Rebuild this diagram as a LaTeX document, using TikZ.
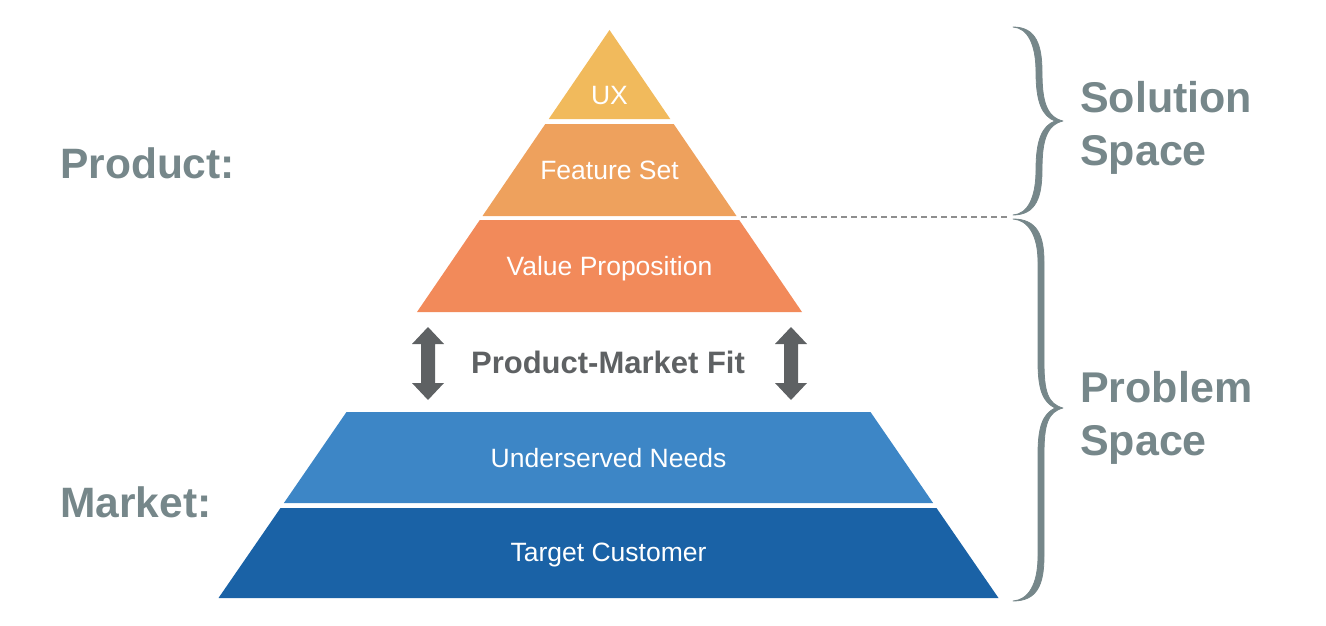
\documentclass[tikz,border=0pt]{standalone}
\usepackage{fontspec}
\setmainfont{Liberation Sans}
\definecolor{uxcol}{HTML}{F1BA5C}
\definecolor{featcol}{HTML}{EEA15D}
\definecolor{vpcol}{HTML}{F28A5A}
\definecolor{needcol}{HTML}{3D86C6}
\definecolor{custcol}{HTML}{1A62A6}
\definecolor{txtgray}{HTML}{76878A}
\definecolor{arrgray}{HTML}{5E6163}
\definecolor{dashgray}{HTML}{8E8E8E}
\tikzset{
  layerlabel/.style={text=white, inner sep=0, anchor=base, font=\fontsize{26.5}{30}\selectfont},
  sidelabel/.style={text=txtgray, inner sep=0, anchor=base west, font=\fontsize{42.5}{50}\selectfont\bfseries},
  spacelabel/.style={text=txtgray, inner sep=0, anchor=base west, font=\fontsize{43}{50}\selectfont\bfseries},
  bracestyle/.style={fill=txtgray, draw=txtgray, line width=0.8pt, line join=round},
  blockarrow/.style={fill=arrgray, draw=none},
}
\begin{document}
\begin{tikzpicture}[x=1pt,y=-1pt]
\useasboundingbox (0,0) rectangle (1326,626);

% product pyramid top
\fill[uxcol] (609.5,30) -- (670.25,119) -- (548.75,119) -- cycle;
\fill[featcol] (545.3,124) -- (673.7,124) -- (736.5,216) -- (482.5,216) -- cycle;
\fill[vpcol] (479.8,220) -- (739.2,220) -- (802,312) -- (417,312) -- cycle;

% market trapezoids
\fill[needcol] (346.5,412) -- (870.5,412) -- (933.1,503) -- (283.9,503) -- cycle;
\fill[custcol] (280.5,508) -- (936.5,508) -- (998.5,598) -- (218.5,598) -- cycle;

% layer labels
\node[layerlabel] (ux) at (609.5,105) {UX};
\node[layerlabel] (feat) at (609.5,179) {Feature Set};
\node[layerlabel] (vp) at (609.5,275) {Value Proposition};
\node[layerlabel] (needs) at (608.5,467) {Underserved Needs};
\node[layerlabel] (cust) at (608.5,561) {Target Customer};

% product-market fit
\node[inner sep=0, anchor=base, text=arrgray, font=\fontsize{31}{36}\selectfont\bfseries] (pmf) at (608,373) {Product-Market Fit};

% double block arrows
\fill[blockarrow] (428,327) -- (444,344) -- (435,344) -- (435,383) -- (444,383) -- (428,400) -- (412,383) -- (421,383) -- (421,344) -- (412,344) -- cycle;
\fill[blockarrow] (791,327) -- (807,344) -- (798,344) -- (798,383) -- (807,383) -- (791,400) -- (775,383) -- (784,383) -- (784,344) -- (775,344) -- cycle;

% side labels
\node[sidelabel] (product) at (60,178) {Product:};
\node[sidelabel] (market) at (60,517) {Market:};

% dashed divider
\coordinate (dashA) at (741,217);
\coordinate (dashB) at (1010,217);
\draw[dashgray, line width=1.5pt, dash pattern=on 6pt off 4pt] (dashA) -- (dashB);

% braces (calligraphic, filled)
\filldraw[bracestyle] (1013,27) .. controls (1036,27) and (1042,45) .. (1042,72)
  .. controls (1042,100) and (1046,117) .. (1063,121)
  .. controls (1046,125) and (1042,142) .. (1042,170)
  .. controls (1042,197) and (1036,215) .. (1013,215)
  .. controls (1028,214) and (1036,197) .. (1036,170)
  .. controls (1036,140) and (1042,126) .. (1055,121)
  .. controls (1042,116) and (1036,102) .. (1036,72)
  .. controls (1036,45) and (1028,28) .. (1013,27) -- cycle;
\filldraw[bracestyle] (1013,219) .. controls (1037,219) and (1044,235) .. (1044,262)
  -- (1044,362) .. controls (1044,392) and (1048,404) .. (1063,408)
  .. controls (1048,412) and (1044,424) .. (1044,454)
  -- (1044,556) .. controls (1044,585) and (1037,601) .. (1013,601)
  .. controls (1028,600) and (1038,585) .. (1038,556)
  -- (1038,454) .. controls (1038,426) and (1043,414) .. (1055,408)
  .. controls (1043,402) and (1038,390) .. (1038,362)
  -- (1038,262) .. controls (1038,235) and (1028,220) .. (1013,219) -- cycle;

% space labels
\node[spacelabel] (sol1) at (1080,113) {Solution};
\node[spacelabel] (sol2) at (1080,165) {Space};
\node[spacelabel] (prob1) at (1080,402) {Problem};
\node[spacelabel] (prob2) at (1080,455) {Space};
\end{tikzpicture}
\end{document}
